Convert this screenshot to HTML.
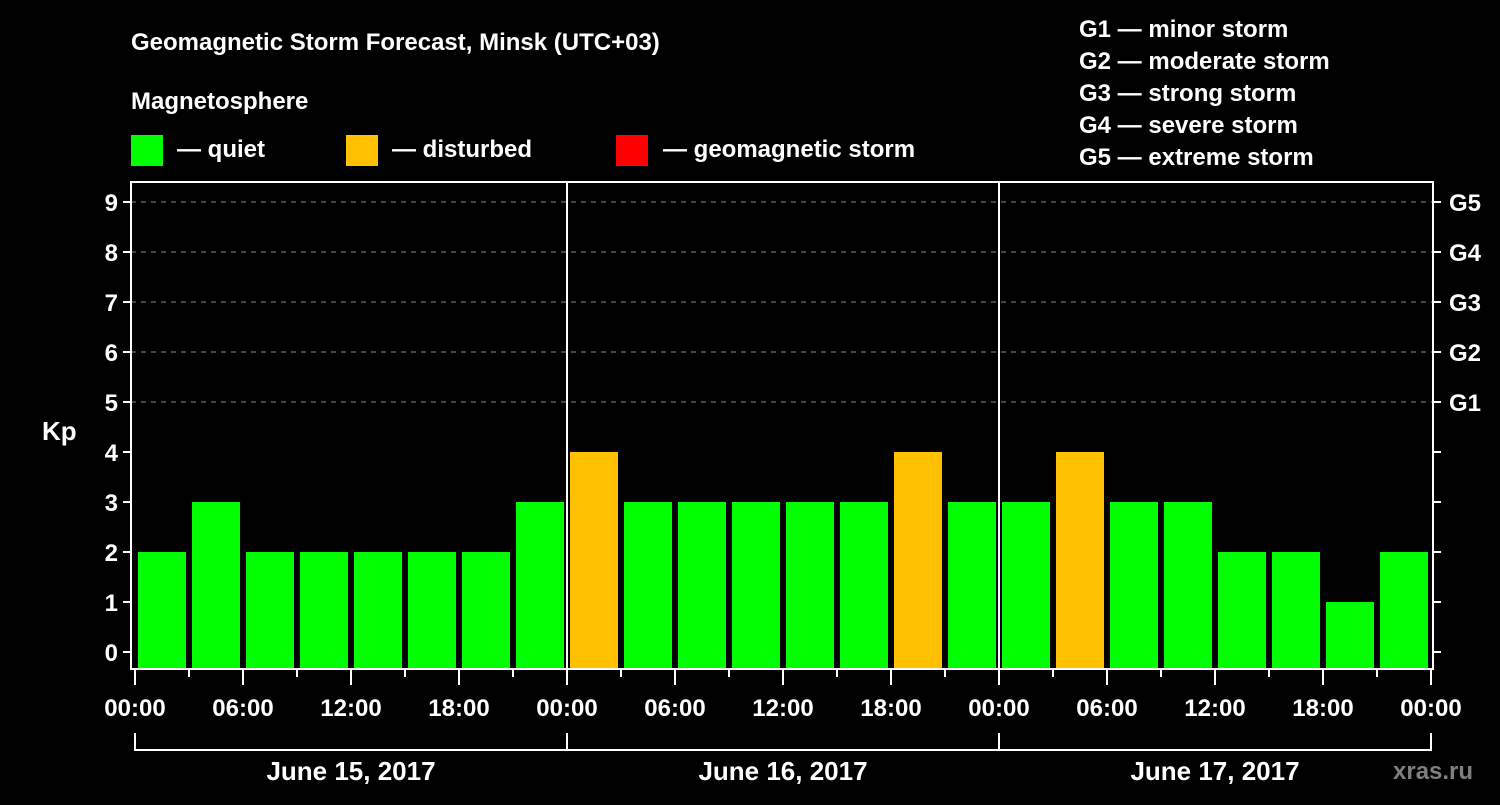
<!DOCTYPE html>
<html><head><meta charset="utf-8"><style>
body{margin:0;background:#000;width:1500px;height:800px;overflow:hidden}
svg text{font-family:"Liberation Sans",sans-serif;font-weight:bold;fill:#fff}
</style></head><body>
<svg width="1500" height="800">
<text x="131" y="50" font-size="24">Geomagnetic Storm Forecast, Minsk (UTC+03)</text>
<text x="131" y="109" font-size="24">Magnetosphere</text>
<g>
<rect x="131" y="135" width="32" height="31" fill="#00ff00"/>
<text x="177" y="157" font-size="24">— quiet</text>
<rect x="346" y="135" width="32" height="31" fill="#ffc000"/>
<text x="392" y="157" font-size="24">— disturbed</text>
<rect x="616" y="135" width="32" height="31" fill="#ff0000"/>
<text x="663" y="157" font-size="24">— geomagnetic storm</text>
</g>
<g font-size="24">
<text x="1079" y="37">G1 — minor storm</text>
<text x="1079" y="69">G2 — moderate storm</text>
<text x="1079" y="101">G3 — strong storm</text>
<text x="1079" y="133">G4 — severe storm</text>
<text x="1079" y="165">G5 — extreme storm</text>
</g>
<text x="42" y="440" font-size="26">Kp</text>
<g id="plot"></g>
<text x="1393" y="779" font-size="24" fill="#888" style="fill:#7f7f7f">xras.ru</text>
</svg>
<script>
const kpValues=[2,3,2,2,2,2,2,3, 4,3,3,3,3,3,4,3, 3,4,3,3,2,2,1,2];
const dayLabels=["June 15, 2017","June 16, 2017","June 17, 2017"];
const timeLabels=["00:00","06:00","12:00","18:00"];
const gLabels=["G1","G2","G3","G4","G5"];
const NS="http://www.w3.org/2000/svg";
const g=document.getElementById('plot');
const X0=135,SLOT=54,L=131,R=1433,T=182,B=669;
const yS=v=>652-50*v;
const xS=i=>X0+SLOT*i;
function mk(t,a,txt){const e=document.createElementNS(NS,t);for(const k in a)e.setAttribute(k,a[k]);if(txt!=null)e.textContent=txt;g.appendChild(e);return e;}
for(let v=5;v<=9;v++){const e=mk('line',{x1:L,x2:R,y1:yS(v),y2:yS(v),stroke:'#888','stroke-dasharray':'5,5','stroke-width':1});

}
kpValues.forEach((v,i)=>{const c=v>=5?'#ff0000':v>=4?'#ffc000':'#00ff00';
const e=mk('rect',{x:xS(i)+3,y:yS(v),width:48,height:B-1-yS(v),fill:c});

});
[1,2].forEach(d=>{const e=mk('line',{x1:xS(d*8),x2:xS(d*8),y1:T,y2:B,stroke:'#fff','stroke-width':2});

});
const fr=mk('rect',{x:L,y:T,width:R-L,height:B-T,fill:'none',stroke:'#fff','stroke-width':2});


for(let v=0;v<=9;v++){
mk('line',{x1:L-8,x2:L,y1:yS(v),y2:yS(v),stroke:'#fff','stroke-width':2});
mk('line',{x1:R,x2:R+8,y1:yS(v),y2:yS(v),stroke:'#fff','stroke-width':2});
const t=mk('text',{x:L-13,y:yS(v)+9,'font-size':24,'text-anchor':'end'},String(v));


if(v>=5){const gt=mk('text',{x:1449,y:yS(v)+9,'font-size':24},gLabels[v-5]);

}}
for(let i=0;i<=24;i++){const maj=i%2==0;
mk('line',{x1:xS(i),x2:xS(i),y1:B,y2:maj?685:677,stroke:'#fff','stroke-width':2});
if(maj&&i%2==0&&(i/2)%1==0&&i%2==0&&i%2==0&&(i%2==0)&&(i/2)%1==0&&((i/2)%1==0)&&(i%2==0)&&(i/2)%1==0){
if((i/2)%1==0&&i%2==0&&(i%2==0)&&((i/2)==Math.floor(i/2))&&(i%2==0)&&i%2==0&&(i/2)%1==0&&(i%2==0)&&(i/2)%1==0&&i%2==0&&i%2==0){
if(i%2==0&&(i/2)%1==0&&(i%2==0)){ if((i/2)%1==0 && i%2==0 && (i/2)%1==0 && i%2===0 && (i/2)<=12 && ((i/2)%1===0)){ if((i/2)%1===0 && i%2===0){ }}}}}
}
for(let k=0;k<=12;k++){const t=mk('text',{x:X0+108*k,y:716,'font-size':24,'text-anchor':'middle'},timeLabels[k%4]);

}
mk('line',{x1:X0,x2:xS(24),y1:750,y2:750,stroke:'#fff','stroke-width':2});
for(let d=0;d<=3;d++)mk('line',{x1:xS(d*8),x2:xS(d*8),y1:733,y2:751,stroke:'#fff','stroke-width':2});
dayLabels.forEach((s,d)=>{const t=mk('text',{x:xS(d*8+4),y:780,'font-size':26,'text-anchor':'middle'},s);

});
</script>
</body></html>
